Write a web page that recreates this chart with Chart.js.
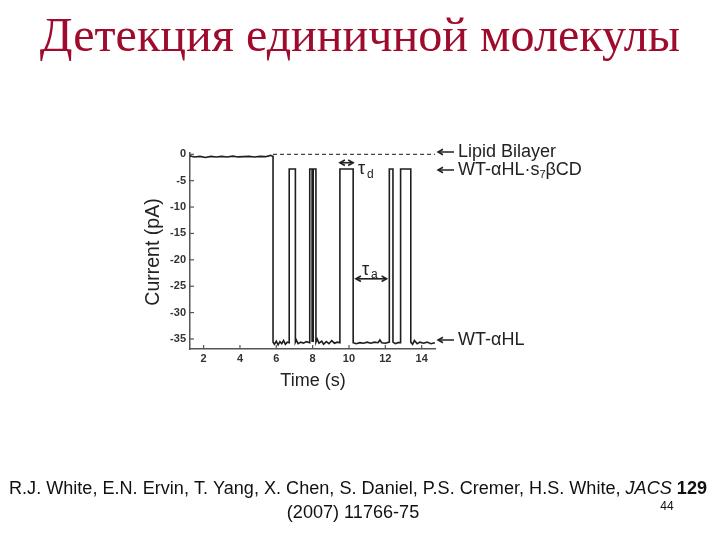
<!DOCTYPE html>
<html><head><meta charset="utf-8">
<script src="https://cdn.jsdelivr.net/npm/chart.js@4.4.1/dist/chart.umd.min.js"></script>
<style>html,body{margin:0;padding:0;background:#fff}#wrap{width:720px;height:540px}</style>
</head><body><div id="wrap"><canvas id="c" width="720" height="540"></canvas></div>
<script>
// ---- data ----
const timeS = [1.25,1.5,1.8,2.1,2.4,2.7,3.0,3.3,3.6,3.9,4.2,4.5,4.8,5.1,5.4,5.6,5.7,5.8,5.82,
  5.82,5.9,6.0,6.1,6.2,6.3,6.4,6.5,6.6,6.71,
  6.71,7.05,
  7.05,7.1,7.2,7.35,7.5,7.65,7.84,
  7.84,7.97,
  7.97,8.03,
  8.03,8.18,
  8.18,8.25,8.35,8.5,8.6,8.75,8.9,9.05,9.2,9.35,9.5,
  9.5,10.23,
  10.23,10.4,10.6,10.8,11.0,11.2,11.4,11.6,11.7,11.8,12.0,12.22,
  12.22,12.42,
  12.42,12.55,12.7,12.84,
  12.84,13.40,
  13.40,13.5,13.6,13.75,13.9,14.1,14.3,14.5,14.73];
const currentPA = [-0.3,-0.5,-0.4,-0.6,-0.4,-0.5,-0.4,-0.5,-0.35,-0.5,-0.45,-0.4,-0.5,-0.4,-0.45,-0.3,-0.2,-0.4,-0.4,
  -35.6,-36.0,-35.4,-36.1,-35.5,-35.9,-35.3,-36.0,-35.6,-35.7,
  -2.8,-2.8,
  -35.6,-35.2,-35.9,-35.6,-35.8,-35.5,-35.7,
  -2.8,-2.8,
  -35.4,-35.4,
  -2.8,-2.8,
  -35.6,-35.0,-35.8,-35.4,-36.0,-35.5,-35.9,-35.3,-35.8,-35.6,-35.7,
  -2.8,-2.8,
  -35.7,-35.9,-35.7,-35.8,-35.6,-35.8,-35.6,-35.7,-35.2,-35.7,-35.8,-35.6,
  -2.8,-2.8,
  -35.6,-35.9,-35.7,-35.7,
  -2.8,-2.8,
  -35.6,-36.0,-35.3,-35.9,-35.6,-35.8,-35.6,-35.9,-35.7];
const bilayerTime = [5.82, 14.75];
const bilayerLevel = [0, 0];
const xTicks = [2,4,6,8,10,12,14];
const yTicks = [0,-5,-10,-15,-20,-25,-30,-35];
const levelLabels = ['Lipid Bilayer','WT-\u03b1HL\u00b7s','WT-\u03b1HL'];
const tauD = [9.5,10.23,-1.6];
const tauA = [10.38,12.07,-23.6];
const titleText = 'Детекция единичной молекулы';
const xTitle = 'Time (s)';
const yTitle = 'Current (pA)';

const trace = timeS.map((t,i)=>({x:t,y:currentPA[i]}));
const dashed = bilayerTime.map((t,i)=>({x:t,y:bilayerLevel[i]}));

function arrowHead(ctx,x,y,dir,s){ctx.beginPath();ctx.moveTo(x+dir*s,y-s*0.55);ctx.lineTo(x,y);ctx.lineTo(x+dir*s,y+s*0.55);ctx.stroke();}
function dblArrow(ctx,x1,x2,y){ctx.beginPath();ctx.moveTo(x1,y);ctx.lineTo(x2,y);ctx.stroke();arrowHead(ctx,x1,y,1,5);arrowHead(ctx,x2,y,-1,5);}

const deco = {
  id:'deco',
  afterDraw(chart){
    const ctx=chart.ctx, xs=chart.scales.x, ys=chart.scales.y, a=chart.chartArea;
    ctx.save();
    // inward ticks
    ctx.strokeStyle='#555';ctx.lineWidth=1.2;
    yTicks.forEach(v=>{const y=ys.getPixelForValue(v);ctx.beginPath();ctx.moveTo(a.left,y);ctx.lineTo(a.left+4,y);ctx.stroke();});
    xTicks.forEach(v=>{const x=xs.getPixelForValue(v);ctx.beginPath();ctx.moveTo(x,a.bottom);ctx.lineTo(x,a.bottom-4);ctx.stroke();});
    // title
    ctx.fillStyle='#9e0b2c';ctx.textAlign='center';ctx.textBaseline='alphabetic';
    ctx.font='44px "Liberation Serif", "Times New Roman", serif';
    let w=ctx.measureText(titleText).width; let fs=44*640/w;
    ctx.font=fs.toFixed(1)+'px "Liberation Serif", "Times New Roman", serif';
    ctx.fillText(titleText,360,51);
    // axis titles
    ctx.fillStyle='#222';ctx.font='18px "Liberation Sans", Arial, sans-serif';ctx.textBaseline='middle';
    ctx.fillText(xTitle,313,381);
    ctx.save();ctx.translate(154,252);ctx.rotate(-Math.PI/2);ctx.font='19.5px "Liberation Sans", Arial, sans-serif';ctx.fillText(yTitle,0,0);ctx.restore();
    // level labels
    ctx.strokeStyle='#222';ctx.lineWidth=1.5;ctx.textAlign='left';
    const lblY=[152,170,340];
    levelLabels.forEach((s,i)=>{
      const y=lblY[i];
      ctx.beginPath();ctx.moveTo(438,y);ctx.lineTo(454,y);ctx.stroke();arrowHead(ctx,438,y,1,5);
      ctx.font='18px "Liberation Sans", Arial, sans-serif';
      ctx.fillText(s,458,y);
      if(i===1){
        let x=458+ctx.measureText(s).width;
        ctx.font='11px "Liberation Sans", Arial, sans-serif';
        ctx.fillText('7',x,y+5);x+=ctx.measureText('7').width;
        ctx.font='18px "Liberation Sans", Arial, sans-serif';
        ctx.fillText('\u03b2CD',x,y);
      }
    });
    // tau arrows
    ctx.lineWidth=1.6;
    dblArrow(ctx,xs.getPixelForValue(tauD[0]),xs.getPixelForValue(tauD[1]),ys.getPixelForValue(tauD[2]));
    dblArrow(ctx,xs.getPixelForValue(tauA[0]),xs.getPixelForValue(tauA[1]),ys.getPixelForValue(tauA[2]));
    ctx.font='18px "Liberation Sans", Arial, sans-serif';
    ctx.fillText('\u03c4',358,169);ctx.font='12px "Liberation Sans", Arial, sans-serif';ctx.fillText('d',367,175);
    ctx.font='18px "Liberation Sans", Arial, sans-serif';
    ctx.fillText('\u03c4',362,270);ctx.font='12px "Liberation Sans", Arial, sans-serif';ctx.fillText('a',371,275);
    // citation
    ctx.fillStyle='#111';ctx.textBaseline='alphabetic';
    const f='17.5px "Liberation Sans", Arial, sans-serif';
    const parts=[['R.J. White, E.N. Ervin, T. Yang, X. Chen, S. Daniel, P.S. Cremer, H.S. White, ',f],['JACS','italic '+f],[' 129','bold '+f]];
    let tw=0;parts.forEach(p=>{ctx.font=p[1];tw+=ctx.measureText(p[0]).width;});
    const sc=698/tw;
    ctx.save();ctx.translate(9,494);ctx.scale(sc,1);let px=0;
    parts.forEach(p=>{ctx.font=p[1];ctx.fillText(p[0],px,0);px+=ctx.measureText(p[0]).width;});
    ctx.restore();
    ctx.font=f;ctx.textAlign='center';
    ctx.save();ctx.translate(353,518);ctx.scale(sc,1);ctx.fillText('(2007) 11766-75',0,0);ctx.restore();
    ctx.font='12px "Liberation Sans", Arial, sans-serif';ctx.fillText('44',667,510);
    ctx.restore();
  }
};

new Chart(document.getElementById('c'),{
  type:'scatter',
  data:{datasets:[
    {data:trace,showLine:true,borderColor:'#1e1e1e',borderWidth:1.6,pointRadius:0,tension:0},
    {data:dashed,showLine:true,borderColor:'#444',borderWidth:1.2,borderDash:[4,3],pointRadius:0}
  ]},
  options:{
    responsive:false,animation:false,
    layout:{padding:{left:150,right:284.7,top:152.7,bottom:171}},
    plugins:{legend:{display:false},tooltip:{enabled:false}},
    scales:{
      x:{type:'linear',min:1.25,max:14.75,
        afterBuildTicks(s){s.ticks=xTicks.map(v=>({value:v}));},
        afterFit(s){s.height=20;},
        grid:{display:false,drawTicks:false},
        border:{display:true,color:'#555',width:1.5},
        ticks:{padding:3,color:'#333',font:{family:'"Liberation Sans", Arial',size:11,weight:'bold'},maxRotation:0}},
      y:{type:'linear',min:-36.9,max:0.3,
        afterBuildTicks(s){s.ticks=yTicks.map(v=>({value:v}));},
        afterFit(s){s.width=40;},
        grid:{display:false,drawTicks:false},
        border:{display:true,color:'#555',width:1.5},
        ticks:{padding:4,color:'#333',font:{family:'"Liberation Sans", Arial',size:11,weight:'bold'}}}
    }
  },
  plugins:[deco]
});
</script></body></html>
